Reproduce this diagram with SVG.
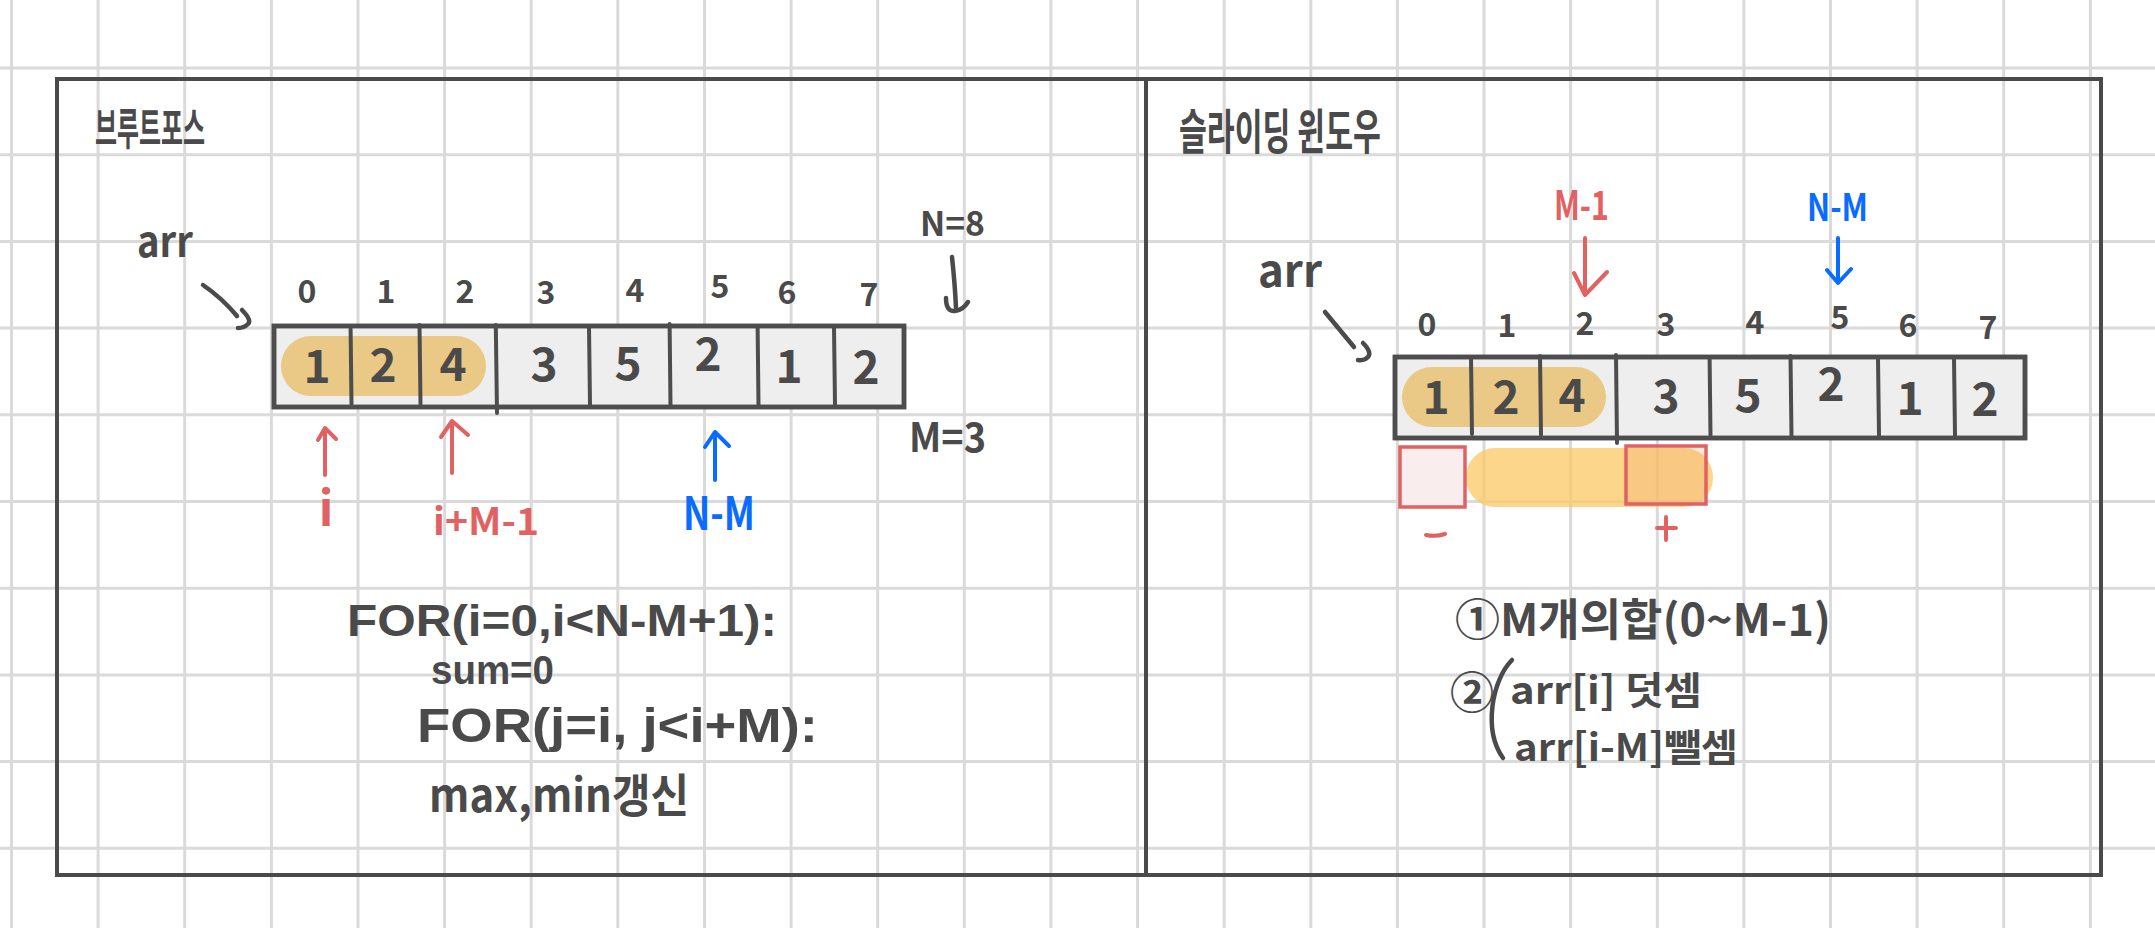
<svg xmlns="http://www.w3.org/2000/svg" width="2155" height="928" viewBox="0 0 2155 928">
<defs>
<style>
.grid{stroke:#dadada;stroke-width:3;fill:none}
.frame{stroke:#4a4a4a;stroke-width:4;fill:none}
.box{fill:#eeeeee;stroke:#4d4d4d;stroke-width:4.5}
.div{stroke:#4d4d4d;stroke-width:4;stroke-linecap:round;fill:none}
.t{font-family:"Noto Sans CJK KR","Noto Sans",sans-serif;font-weight:700;fill:#4a4a4a}
.l{font-family:"Liberation Sans","Noto Sans CJK KR",sans-serif;font-weight:700;fill:#4a4a4a}
.c{text-anchor:middle}
.red{fill:#e06262}
.blue{fill:#0a6cff}
.pen{stroke:#4a4a4a;stroke-width:4.5;stroke-linecap:round;stroke-linejoin:round;fill:none}
.pr{stroke:#e06262;stroke-width:4;stroke-linecap:round;stroke-linejoin:round;fill:none}
.pb{stroke:#0a6cff;stroke-width:4;stroke-linecap:round;stroke-linejoin:round;fill:none}
.hl{fill:#e9c47c;opacity:0.92}
.sq{stroke:#e06262;stroke-width:3.5}
</style>
</defs>
<rect width="2155" height="928" fill="#ffffff"/>
<g id="grid">
<path class="grid" d="M11.5,0V928M98.1,0V928M184.7,0V928M271.4,0V928M358,0V928M444.6,0V928M531.2,0V928M617.8,0V928M704.5,0V928M791.1,0V928M877.7,0V928M964.3,0V928M1050.9,0V928M1137.6,0V928M1224.2,0V928M1310.8,0V928M1397.4,0V928M1484,0V928M1570.6,0V928M1657.3,0V928M1743.9,0V928M1830.5,0V928M1917.1,0V928M2003.7,0V928M2090.4,0V928"/>
<path class="grid" d="M0,68H2155M0,154.7H2155M0,241.4H2155M0,328.1H2155M0,414.8H2155M0,501.5H2155M0,588.2H2155M0,674.9H2155M0,761.6H2155M0,848.3H2155"/>
</g>
<g id="frame">
<rect class="frame" x="57" y="79" width="2044" height="796"/>
<line class="frame" x1="1146" y1="79" x2="1146" y2="875"/>
</g>
<g id="left-panel">
<g id="title-left"><text class="t" x="95" y="145" font-size="44" textLength="110" lengthAdjust="spacingAndGlyphs">브루트포스</text></g>
<g id="arr-left"><text class="t" x="137" y="257" font-size="42" textLength="56" lengthAdjust="spacingAndGlyphs">arr</text></g>
<g id="idx-left">
<text class="t c" font-size="32" x="307" y="303">0</text>
<text class="t c" font-size="32" x="386" y="303">1</text>
<text class="t c" font-size="32" x="465" y="303">2</text>
<text class="t c" font-size="32" x="546" y="304">3</text>
<text class="t c" font-size="32" x="635" y="302">4</text>
<text class="t c" font-size="32" x="720" y="298">5</text>
<text class="t c" font-size="32" x="787" y="304">6</text>
<text class="t c" font-size="32" x="869" y="306">7</text>
</g>
<g id="array-left">
<rect class="box" x="274" y="326" width="630" height="81"/>
<rect class="hl" x="281" y="336" width="205" height="60" rx="30"/>
<path class="div" d="M350.6,329L351.5,404M419.5,325L420.5,404M495.8,325L497,413M589,327L590,405M669.6,324L670.5,405M757.6,326L758.5,405M834,327L835,405"/>
<rect x="274" y="326" width="630" height="81" fill="none" stroke="#4d4d4d" stroke-width="4.5"/>
<text class="t c" font-size="46" x="317" y="383">1</text>
<text class="t c" font-size="46" x="383" y="382">2</text>
<text class="t c" font-size="46" x="453" y="381">4</text>
<text class="t c" font-size="46" x="544" y="381">3</text>
<text class="t c" font-size="46" x="628" y="380">5</text>
<text class="t c" font-size="46" x="708" y="371">2</text>
<text class="t c" font-size="46" x="789" y="383">1</text>
<text class="t c" font-size="46" x="866" y="384">2</text>
</g>
<g id="N8"><text class="t" x="920" y="236" font-size="34" textLength="65" lengthAdjust="spacingAndGlyphs">N=8</text></g>
<g id="M3"><text class="t" x="909" y="452" font-size="40" textLength="77" lengthAdjust="spacingAndGlyphs">M=3</text></g>
<g id="label-i"><text class="t c red" x="326" y="526" font-size="48">i</text></g>
<g id="label-iM1"><text class="t red" x="433" y="535" font-size="38" textLength="106" lengthAdjust="spacingAndGlyphs">i+M-1</text></g>
<g id="label-NM-left"><text class="t blue" x="683" y="530" font-size="46" textLength="72" lengthAdjust="spacingAndGlyphs">N-M</text></g>
<g id="code-left">
<text class="l" x="347" y="636" font-size="44" textLength="430" lengthAdjust="spacingAndGlyphs">FOR(i=0,i&lt;N-M+1):</text>
<text class="l" x="431" y="684" font-size="40" textLength="123" lengthAdjust="spacingAndGlyphs">sum=0</text>
<text class="l" x="417" y="742" font-size="48" textLength="401" lengthAdjust="spacingAndGlyphs">FOR(j=i, j&lt;i+M):</text>
<text class="t" x="429" y="812" font-size="46" textLength="260" lengthAdjust="spacingAndGlyphs">max,min갱신</text>
</g>
</g>
<g id="right-panel">
<g id="title-right"><text class="t" x="1179" y="149" font-size="48" textLength="202" lengthAdjust="spacingAndGlyphs">슬라이딩 윈도우</text></g>
<g id="arr-right"><text class="t" x="1258" y="287" font-size="44" textLength="64" lengthAdjust="spacingAndGlyphs">arr</text></g>
<g id="label-M1"><text class="t red" x="1554" y="220" font-size="40" textLength="55" lengthAdjust="spacingAndGlyphs">M-1</text></g>
<g id="label-NM-right"><text class="t blue" x="1807" y="221" font-size="38" textLength="61" lengthAdjust="spacingAndGlyphs">N-M</text></g>
<g id="idx-right">
<text class="t c" font-size="32" x="1427" y="336">0</text>
<text class="t c" font-size="32" x="1507" y="337">1</text>
<text class="t c" font-size="32" x="1585" y="335">2</text>
<text class="t c" font-size="32" x="1666" y="336">3</text>
<text class="t c" font-size="32" x="1755" y="334">4</text>
<text class="t c" font-size="32" x="1840" y="329">5</text>
<text class="t c" font-size="32" x="1908" y="337">6</text>
<text class="t c" font-size="32" x="1988" y="339">7</text>
</g>
<g id="array-right">
<rect class="box" x="1395" y="357" width="630" height="81"/>
<rect class="hl" x="1402" y="367" width="204" height="60" rx="30"/>
<path class="div" d="M1471,357L1472,434M1540,356L1541,435M1616,355L1617,443M1709.6,358L1710.5,435M1790.5,356L1791.5,436M1878,358L1879,436M1954,358L1955,436"/>
<rect x="1395" y="357" width="630" height="81" fill="none" stroke="#4d4d4d" stroke-width="4.5"/>
<text class="t c" font-size="46" x="1436" y="414">1</text>
<text class="t c" font-size="46" x="1506" y="414">2</text>
<text class="t c" font-size="46" x="1572" y="412">4</text>
<text class="t c" font-size="46" x="1666" y="413">3</text>
<text class="t c" font-size="46" x="1748" y="412">5</text>
<text class="t c" font-size="46" x="1831" y="401">2</text>
<text class="t c" font-size="46" x="1910" y="415">1</text>
<text class="t c" font-size="46" x="1985" y="416">2</text>
</g>
<g id="window">
<rect x="1466" y="448" width="247" height="59" rx="29" fill="#fbc863" opacity="0.75"/>
<rect class="sq" x="1400" y="447" width="65" height="60" fill="#f9eded"/>
<rect class="sq" x="1626" y="446" width="80" height="58" fill="#f0a070" fill-opacity="0.25"/>
<path class="pr" d="M1426,535Q1436,537 1445,534" stroke-width="5"/>
<path class="pr" d="M1666,517V540M1657,528H1676"/>
</g>
<g id="step1"><text class="t" x="1455" y="636" font-size="44" textLength="376" lengthAdjust="spacingAndGlyphs">①M개의합(0~M-1)</text></g>
<g id="step2">
<text class="t" x="1450" y="709" font-size="44">②</text>
<path class="pen" d="M1512,660C1492,680 1483,730 1503,758"/>
<text class="t" x="1510" y="704" font-size="38" textLength="192" lengthAdjust="spacingAndGlyphs">arr[i] 덧셈</text>
<text class="t" x="1514" y="761" font-size="38" textLength="224" lengthAdjust="spacingAndGlyphs">arr[i-M]뺄셈</text>
</g>
</g>
<g id="connectors">
<path class="pen" d="M203,285Q222,298 237,316M242,310Q252,320 248,324Q244,328 238,328"/>
<path class="pen" d="M952,257Q955,285 956,308M946,298Q946,312 955,311Q963,310 968,302"/>
<path class="pr" d="M325,475V430M318,440L325,428L336,439"/>
<path class="pr" d="M452,473V423M441,437L452,421L468,435"/>
<path class="pb" d="M715,480V433M705,447L715,432L729,446"/>
<path class="pen" d="M1325,312Q1340,330 1354,347M1363,343Q1372,352 1368,357Q1364,361 1358,360"/>
<path class="pr" d="M1585,238V292M1574,273L1585,295L1607,272"/>
<path class="pb" d="M1838,238V283M1827,270L1838,283L1851,269"/>
</g>
</svg>
